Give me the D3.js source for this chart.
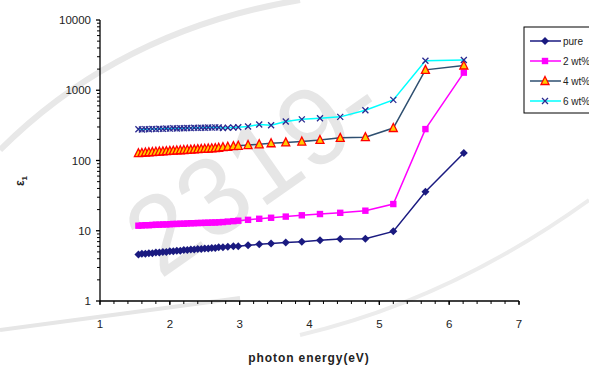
<!DOCTYPE html>
<html>
<head>
<meta charset="utf-8">
<script src="https://cdn.jsdelivr.net/npm/d3@7"></script>
<style>
  body { margin: 0; background: #fff; }
  svg { font-family: 'Liberation Sans', Arial, sans-serif; }
</style>
</head>
<body>
<svg id="chart" width="589" height="371"></svg>
<script>
// photon energy (eV), shared by all series
const energy = [
  1.55, 1.60, 1.65, 1.70, 1.75, 1.80, 1.85, 1.90, 1.95, 2.00, 2.05, 2.10,
  2.15, 2.20, 2.25, 2.30, 2.35, 2.40, 2.45, 2.50, 2.55, 2.60, 2.65, 2.70,
  2.76, 2.83, 2.91, 2.98, 3.12, 3.28, 3.45, 3.66, 3.89, 4.15, 4.44, 4.80,
  5.20, 5.66, 6.21
];

const pure = [
  4.6, 4.7, 4.7, 4.8, 4.8, 4.9, 4.9, 5.0, 5.0, 5.1, 5.1, 5.2,
  5.2, 5.3, 5.3, 5.4, 5.4, 5.5, 5.5, 5.6, 5.6, 5.7, 5.7, 5.8,
  5.8, 5.9, 6.0, 6.0, 6.2, 6.4, 6.6, 6.8, 7.0, 7.3, 7.6, 7.7,
  9.8, 36, 128
];

const wt2 = [
  11.8, 11.9, 12.0, 12.0, 12.1, 12.2, 12.2, 12.3, 12.3, 12.4, 12.5, 12.5,
  12.6, 12.6, 12.7, 12.8, 12.8, 12.9, 12.9, 13.0, 13.0, 13.1, 13.1, 13.2,
  13.3, 13.5, 13.7, 13.9, 14.3, 14.8, 15.3, 15.9, 16.6, 17.3, 18.0, 19.3,
  24, 280, 1780
];

const wt4 = [
  127, 128, 130, 131, 132, 133, 134, 135, 136, 137, 138, 139,
  140, 141, 142, 143, 144, 145, 146, 147, 148, 149, 150, 152,
  155, 157, 160, 162, 166, 170, 176, 181, 186, 196, 210, 215,
  290, 1950, 2250
];

const wt6 = [
  278, 276, 280, 279, 282, 280, 283, 282, 285, 284, 287, 286,
  288, 287, 290, 289, 292, 291, 293, 292, 295, 294, 296, 295,
  290, 292, 295, 298, 305, 325, 318, 360, 385, 400, 418, 520,
  730, 2630, 2700
];

const seriesNames = ['pure', '2 wt%', '4 wt%', '6 wt%'];
const seriesValues = [pure, wt2, wt4, wt6];

const xTicks = [1, 2, 3, 4, 5, 6, 7];
const yTicks = [1, 10, 100, 1000, 10000];

const styles = [
  { line: '#1a1a80', marker: 'diamond', fill: '#1a1a80', stroke: '#1a1a80' },
  { line: '#ff00ff', marker: 'square', fill: '#ff00ff', stroke: '#ff00ff' },
  { line: '#2e4f70', marker: 'triangle', fill: '#ffcc00', stroke: '#ff0000' },
  { line: '#00ffff', marker: 'cross', fill: 'none', stroke: '#2a2a90' }
];

const svg = d3.select('#chart');
const x = d3.scaleLinear().domain([1, 7]).range([100, 519]);
const y = d3.scaleLog().domain([1, 10000]).range([301, 20]);

// faint watermark behind the plot
svg.append('text')
  .attr('transform', 'translate(160,280) rotate(-35)')
  .attr('font-size', 110)
  .attr('fill', '#e6e6e6')
  .text('2319-');
svg.append('path')
  .attr('d', 'M0,150 Q120,30 300,0')
  .attr('fill', 'none')
  .attr('stroke', '#e8e8e8')
  .attr('stroke-width', 6);
svg.append('path')
  .attr('d', 'M0,330 L240,298')
  .attr('stroke', '#e6e6e6')
  .attr('stroke-width', 4);
svg.append('path')
  .attr('d', 'M300,335 Q450,300 589,200')
  .attr('fill', 'none')
  .attr('stroke', '#ececec')
  .attr('stroke-width', 4);

// axes
const gx = svg.append('g').attr('transform', `translate(0,${y(1)})`);
gx.append('line').attr('x1', x(1)).attr('x2', x(7)).attr('stroke', '#000').attr('stroke-width', 1.3);
gx.selectAll('.minor')
  .data(d3.range(1, 7.001, 0.2))
  .join('line')
  .attr('x1', (d) => x(d)).attr('x2', (d) => x(d))
  .attr('y1', 0).attr('y2', 3)
  .attr('stroke', '#000');
gx.selectAll('.major')
  .data(xTicks)
  .join('line')
  .attr('x1', (d) => x(d)).attr('x2', (d) => x(d))
  .attr('y1', 0).attr('y2', 4)
  .attr('stroke', '#000').attr('stroke-width', 1.3);
gx.selectAll('text')
  .data(xTicks)
  .join('text')
  .attr('x', (d) => x(d))
  .attr('y', 27)
  .attr('text-anchor', 'middle')
  .attr('font-size', 11.5)
  .attr('fill', '#222')
  .text((d) => d);

const gy = svg.append('g').attr('transform', `translate(${x(1)},0)`);
gy.append('line').attr('y1', y(1)).attr('y2', y(10000)).attr('stroke', '#000').attr('stroke-width', 1.3);
const minorY = [];
yTicks.slice(0, -1).forEach((d) => {
  for (let k = 2; k < 10; k++) minorY.push(d * k);
});
gy.selectAll('.minor')
  .data(minorY)
  .join('line')
  .attr('y1', (d) => y(d)).attr('y2', (d) => y(d))
  .attr('x1', -3).attr('x2', 0)
  .attr('stroke', '#000');
gy.selectAll('.major')
  .data(yTicks)
  .join('line')
  .attr('y1', (d) => y(d)).attr('y2', (d) => y(d))
  .attr('x1', -4).attr('x2', 0)
  .attr('stroke', '#000').attr('stroke-width', 1.3);
gy.selectAll('text')
  .data(yTicks)
  .join('text')
  .attr('x', -9)
  .attr('y', (d) => y(d) + 4)
  .attr('text-anchor', 'end')
  .attr('font-size', 11.5)
  .attr('fill', '#222')
  .text((d) => d);

// axis titles
svg.append('text')
  .attr('x', 309).attr('y', 362)
  .attr('text-anchor', 'middle')
  .attr('font-size', 12)
  .attr('font-weight', 'bold')
  .attr('letter-spacing', 0.9)
  .attr('fill', '#222')
  .text('photon energy(eV)');

const yt = svg.append('text')
  .attr('transform', 'translate(24,181) rotate(-90)')
  .attr('text-anchor', 'middle')
  .attr('font-size', 12)
  .attr('font-weight', 'bold')
  .attr('fill', '#222');
yt.append('tspan').text('ε');
yt.append('tspan').attr('font-size', 8).attr('dy', 3).text('1');

// markers
const drawMarker = (g, kind, st) => {
  if (kind === 'diamond') {
    g.append('path').attr('d', 'M0,-4L4,0L0,4L-4,0Z').attr('fill', st.fill);
  } else if (kind === 'square') {
    g.append('rect').attr('x', -3.2).attr('y', -3.2).attr('width', 6.4).attr('height', 6.4).attr('fill', st.fill);
  } else if (kind === 'triangle') {
    g.append('path').attr('d', 'M0,-4.5L4,3.5L-4,3.5Z')
      .attr('fill', st.fill).attr('stroke', st.stroke).attr('stroke-width', 1.3);
  } else {
    g.append('path').attr('d', 'M-3,-3L3,3M-3,3L3,-3')
      .attr('fill', 'none').attr('stroke', st.stroke).attr('stroke-width', 1.3);
  }
};

const line = d3.line().x((d) => x(d[0])).y((d) => y(d[1]));

seriesValues.forEach((vals, i) => {
  const st = styles[i];
  const pts = energy.map((e, j) => [e, vals[j]]);
  const g = svg.append('g');
  g.append('path')
    .attr('d', line(pts))
    .attr('fill', 'none')
    .attr('stroke', st.line)
    .attr('stroke-width', 1.5);
  g.selectAll('g')
    .data(pts)
    .join('g')
    .attr('transform', (d) => `translate(${x(d[0])},${y(d[1])})`)
    .each(function () { drawMarker(d3.select(this), st.marker, st); });
});

// legend (runs off the right edge, as in the original)
const lg = svg.append('g').attr('transform', 'translate(524,27)');
lg.append('rect')
  .attr('width', 80).attr('height', 86)
  .attr('fill', '#fff').attr('stroke', '#000').attr('stroke-width', 1);
seriesNames.forEach((name, i) => {
  const st = styles[i];
  const row = lg.append('g').attr('transform', `translate(0,${14 + i * 20})`);
  row.append('line').attr('x1', 6).attr('x2', 37)
    .attr('stroke', st.line).attr('stroke-width', 1.5);
  const m = row.append('g').attr('transform', 'translate(21,0)');
  drawMarker(m, st.marker, st);
  row.append('text')
    .attr('x', 39).attr('y', 3.5)
    .attr('font-size', 10)
    .attr('fill', '#222')
    .text(name);
});
</script>
</body>
</html>
